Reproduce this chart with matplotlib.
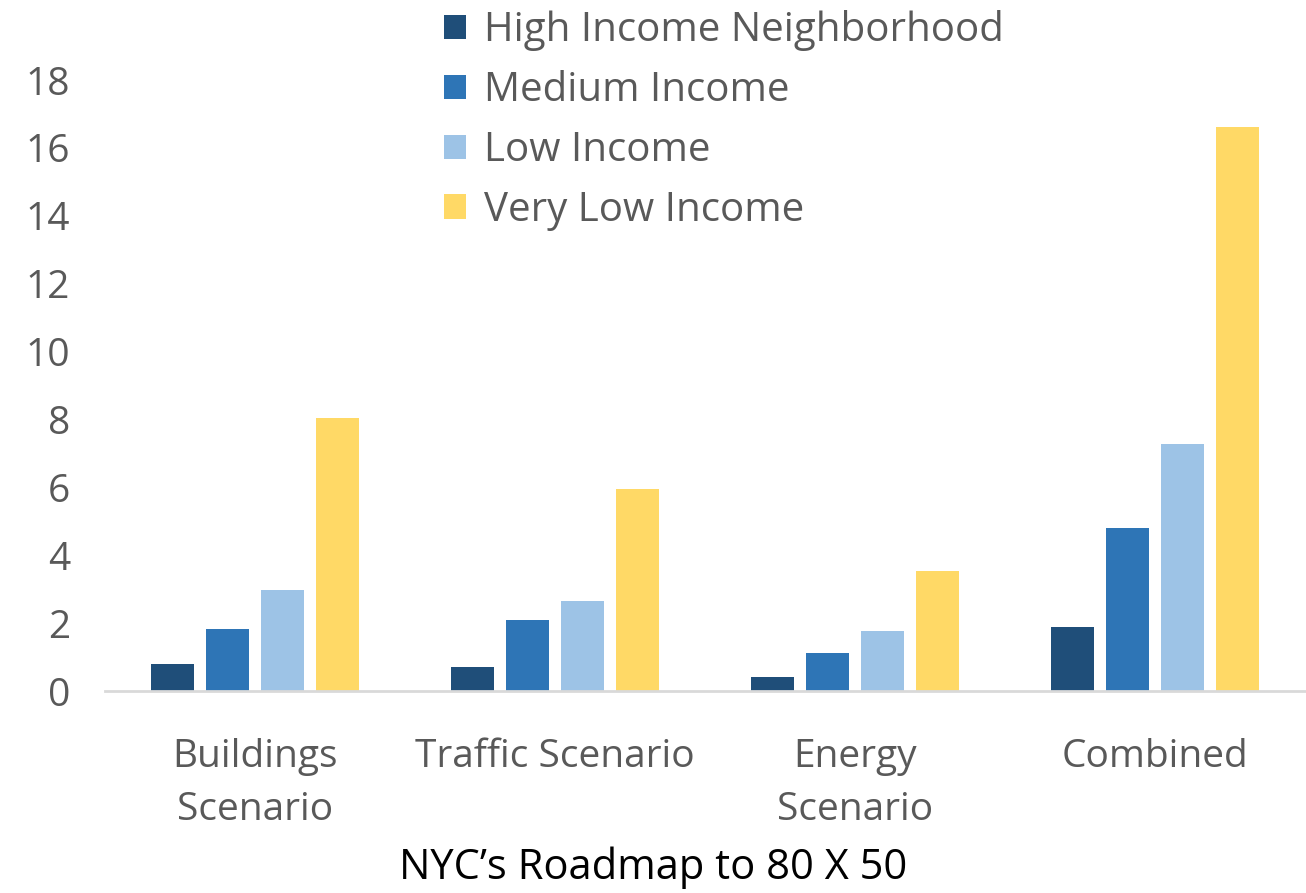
import numpy as np
import matplotlib.pyplot as plt

categories = ["Buildings\nScenario", "Traffic Scenario", "Energy\nScenario", "Combined"]
series_names = ["High Income Neighborhood", "Medium Income", "Low Income", "Very Low Income"]
high = [0.79, 0.72, 0.40, 1.89]
medium = [1.82, 2.09, 1.11, 4.79]
low = [2.98, 2.64, 1.77, 7.27]
very_low = [8.04, 5.95, 3.53, 16.62]
colors = ["#1F4E79", "#2E75B6", "#9DC3E6", "#FFD966"]

plt.rcParams['font.family'] = ['Open Sans', 'DejaVu Sans']

fig = plt.figure(figsize=(13.06, 8.93), dpi=100)
ax = fig.add_axes([0.0804, 0.2262, 0.919, 0.6842])

x = np.arange(len(categories))
step = 0.183
width = 0.143
for i, (vals, name) in enumerate(zip([high, medium, low, very_low], series_names)):
    ax.bar(x + (i - 1.5) * step, vals, width, color=colors[i], label=name)

ax.set_xlim(-0.5, 3.5)
ax.set_ylim(0, 18)
ax.set_yticks(range(0, 19, 2))
ax.set_xticks(x)
ax.set_xticklabels(categories, linespacing=1.5)
ax.tick_params(axis='both', length=0, colors="#595959", labelsize=28)
ax.tick_params(axis='x', pad=34)
ax.tick_params(axis='y', pad=25)
for s in ["top", "right", "left"]:
    ax.spines[s].set_visible(False)
ax.spines["bottom"].set_color("#D9D9D9")
ax.spines["bottom"].set_linewidth(2)

fig.legend(loc='upper left', bbox_to_anchor=(0.312, 1.029), frameon=False,
           fontsize=29, labelcolor="#595959", handlelength=0.55, handleheight=0.55,
           handletextpad=0.45, labelspacing=0.48)

fig.text(0.5, 0.028, "NYC\u2019s Roadmap to 80 X 50", ha='center', va='center', fontsize=30, color="black")

fig.savefig("out.png", dpi=100)
